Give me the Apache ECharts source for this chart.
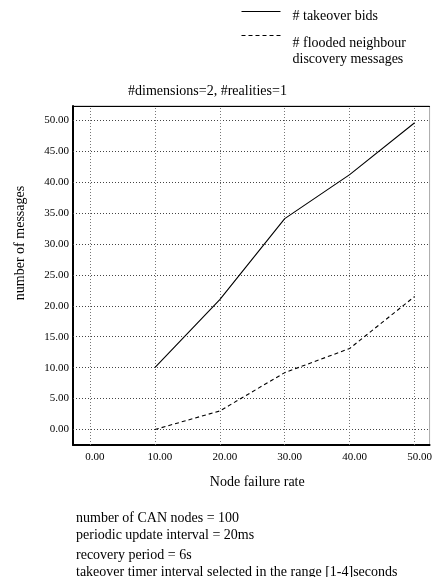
<!DOCTYPE html>
<html>
<head>
<meta charset="utf-8">
<script src="https://cdn.jsdelivr.net/npm/echarts@6/dist/echarts.min.js"></script>
<style>
html,body{margin:0;padding:0;background:#fff;}
#chart{width:435px;height:577px;}
</style>
</head>
<body>
<div id="chart"></div>
<script>
const failureRates = [10, 20, 30, 40, 50];
const takeoverBids = [10.0, 21.0, 34.1, 41.2, 49.6];
const floodedMessages = [0.0, 3.0, 9.2, 13.1, 21.5];
const xTicks = [0, 10, 20, 30, 40, 50];
const yTicks = [0, 5, 10, 15, 20, 25, 30, 35, 40, 45, 50];
const seriesNames = ['# takeover bids', '# flooded neighbour\ndiscovery messages'];
const chartTitle = '#dimensions=2, #realities=1';
const xAxisName = 'Node failure rate';
const yAxisName = 'number of messages';
const notes = [
  'number of CAN nodes = 100',
  'periodic update interval = 20ms',
  'recovery period = 6s',
  'takeover timer interval selected in the range [1-4]seconds'
];
const noteTops = [511, 528, 548, 565];

const FONT = 'Liberation Serif';
const chart = echarts.init(document.getElementById('chart'));
const fmt = v => Number(v).toFixed(2);
const txt = { fontFamily: FONT, fontSize: 14, color: '#000' };

function legendText(name) {
  const parts = name.split('\n');
  if (parts.length > 1) {
    return '{a|' + parts[0] + '}\n{t|' + parts.slice(1).join('\n') + '}';
  }
  return '{b|' + name + '}';
}
const legendBase = {
  orient: 'vertical', left: 241, padding: 0,
  itemWidth: 39, itemHeight: 14,
  itemStyle: { color: 'rgba(0,0,0,0)', borderWidth: 0 },
  lineStyle: { width: 1 },
  formatter: legendText,
  textStyle: Object.assign({}, txt, {
    padding: [0, 0, 0, 7],
    rich: {
      b: Object.assign({}, txt, { padding: [9.4, 0, 0, 0], lineHeight: 25.4 }),
      a: Object.assign({}, txt, { padding: [31.4, 0, 0, 0], lineHeight: 47.4 }),
      t: Object.assign({}, txt, { lineHeight: 16 })
    }
  })
};

const option = {
  animation: false,
  backgroundColor: '#fff',
  textStyle: { fontFamily: FONT, color: '#000' },
  title: [
    { text: chartTitle, left: 128, top: 84, padding: 0,
      textStyle: Object.assign({}, txt, { fontWeight: 'normal' }) }
  ].concat(notes.map((t, i) => ({
    text: t, left: 76, top: noteTops[i], padding: 0,
    textStyle: Object.assign({}, txt, { fontWeight: 'normal' })
  }))),
  legend: [
    Object.assign({}, legendBase, { top: -0.2, data: [seriesNames[0]] }),
    Object.assign({}, legendBase, { top: 4.8, data: [seriesNames[1]] })
  ],
  graphic: [{
    type: 'text', x: 20, y: 243, rotation: Math.PI / 2,
    style: { text: yAxisName, font: '14px "Liberation Serif"', fill: '#000',
      align: 'center', verticalAlign: 'middle' }
  }],
  grid: { left: 73, right: 1, top: 106, bottom: 132, show: true, borderColor: '#aaa', borderWidth: 1 },
  xAxis: [{
    type: 'value', min: -2.6, max: 52.3, position: 'bottom',
    name: xAxisName, nameLocation: 'middle', nameGap: 30,
    nameTextStyle: Object.assign({}, txt, { padding: [0, 0, 0, 12] }),
    axisLine: { show: true, onZero: false, lineStyle: { color: '#000', width: 2 } },
    axisTick: { show: false },
    splitLine: { show: false },
    axisLabel: { customValues: xTicks, formatter: fmt, margin: 7, padding: [0, 0, 0, 10],
      fontFamily: FONT, fontSize: 11, color: '#000' }
  }, {
    type: 'value', min: -2.6, max: 52.3, position: 'top',
    axisLine: { show: true, onZero: false, lineStyle: { color: '#000', width: 1 } },
    axisTick: { show: false }, axisLabel: { show: false }, splitLine: { show: false }
  }],
  yAxis: {
    type: 'value', min: -2.5, max: 52.3,
    axisLine: { show: true, onZero: false, lineStyle: { color: '#000', width: 2 } },
    axisTick: { show: false },
    splitLine: { show: false },
    axisLabel: { customValues: yTicks, formatter: fmt, margin: 4, padding: [0, 0, 5, 0],
      fontFamily: FONT, fontSize: 11, color: '#000' }
  },
  series: [
    {
      name: seriesNames[0], type: 'line', symbol: 'none',
      data: failureRates.map((x, i) => [x, takeoverBids[i]]),
      lineStyle: { color: '#000', width: 1.1, type: 'solid' },
      itemStyle: { color: '#000' },
      z: 5,
      markLine: {
        silent: true, symbol: ['none', 'none'], label: { show: false },
        lineStyle: { color: '#444', width: 1, type: [1, 2] },
        data: yTicks.map(v => ({ yAxis: v }))
      }
    },
    {
      name: seriesNames[1], type: 'line', symbol: 'none',
      data: failureRates.map((x, i) => [x, floodedMessages[i]]),
      lineStyle: { color: '#000', width: 1.1, type: [4, 3] },
      itemStyle: { color: '#000' },
      z: 5,
      markLine: {
        silent: true, symbol: ['none', 'none'], label: { show: false },
        lineStyle: { color: '#777', width: 1, type: [1, 2] },
        data: xTicks.map(v => ({ xAxis: v }))
      }
    }
  ]
};
chart.setOption(option);
</script>
</body>
</html>
